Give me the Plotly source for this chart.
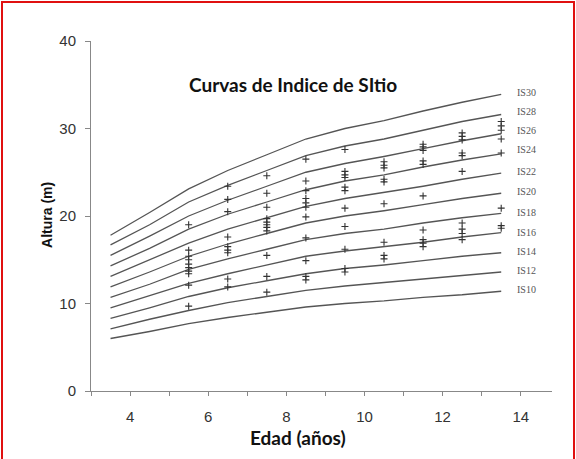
import plotly.graph_objects as go

# ---- Data ----
edad_curvas = [3.5, 4.5, 5.5, 6.5, 7.5, 8.5, 9.5, 10.5, 11.5, 12.5, 13.5]

is10 = [6.0, 6.8, 7.7, 8.4, 9.0, 9.6, 10.0, 10.3, 10.7, 11.0, 11.4]
is12 = [7.1, 8.2, 9.2, 10.1, 10.8, 11.5, 12.0, 12.4, 12.8, 13.2, 13.6]
is14 = [8.3, 9.5, 10.8, 11.8, 12.6, 13.4, 14.0, 14.4, 14.9, 15.4, 15.8]
is16 = [9.5, 10.9, 12.3, 13.4, 14.4, 15.4, 16.0, 16.5, 17.0, 17.6, 18.1]
is18 = [10.7, 12.2, 13.9, 15.1, 16.2, 17.3, 18.0, 18.5, 19.2, 19.8, 20.3]
is20 = [11.9, 13.6, 15.4, 16.8, 18.0, 19.2, 20.0, 20.6, 21.3, 22.0, 22.6]
is22 = [13.1, 15.0, 16.9, 18.5, 19.8, 21.1, 22.0, 22.7, 23.4, 24.2, 24.9]
is24 = [14.3, 16.3, 18.5, 20.2, 21.6, 23.0, 24.0, 24.7, 25.6, 26.4, 27.1]
is26 = [15.5, 17.7, 20.0, 21.8, 23.4, 25.0, 26.0, 26.8, 27.7, 28.6, 29.4]
is28 = [16.7, 19.0, 21.6, 23.5, 25.2, 26.9, 28.0, 28.8, 29.8, 30.8, 31.6]
is30 = [17.8, 20.4, 23.1, 25.2, 27.0, 28.8, 30.0, 30.9, 32.0, 33.0, 33.9]

curvas = [("IS10", is10), ("IS12", is12), ("IS14", is14), ("IS16", is16),
          ("IS18", is18), ("IS20", is20), ("IS22", is22), ("IS24", is24),
          ("IS26", is26), ("IS28", is28), ("IS30", is30)]

etiqueta_y = [11.6, 13.8, 16.0, 18.1, 20.4, 22.8, 25.1, 27.6, 29.8, 32.0, 34.1]

obs_5_5 = [19.0, 16.1, 15.4, 15.0, 14.5, 14.1, 13.7, 13.4, 12.1, 9.7]
obs_6_5 = [23.4, 21.9, 20.5, 17.6, 16.5, 16.1, 15.8, 12.8, 11.9]
obs_7_5 = [24.6, 22.6, 21.0, 19.7, 19.3, 19.0, 18.7, 18.3, 15.5, 13.1, 11.3]
obs_8_5 = [26.5, 24.0, 22.9, 22.0, 21.5, 21.0, 19.9, 17.5, 14.9, 13.1, 12.7]
obs_9_5 = [27.6, 25.1, 24.7, 24.4, 23.3, 22.9, 20.9, 18.8, 16.2, 14.0, 13.6]
obs_10_5 = [26.2, 25.8, 25.5, 24.2, 23.9, 21.4, 17.0, 15.5, 15.1]
obs_11_5 = [28.2, 27.9, 27.5, 26.3, 25.9, 22.3, 18.4, 17.3, 16.9, 16.5]
obs_12_5 = [29.5, 29.1, 28.7, 27.2, 26.9, 25.1, 19.2, 18.5, 18.0, 17.3]
obs_13_5 = [30.8, 30.3, 29.8, 28.8, 27.2, 20.9, 18.9, 18.6]

observaciones = [(5.5, obs_5_5), (6.5, obs_6_5), (7.5, obs_7_5), (8.5, obs_8_5),
                 (9.5, obs_9_5), (10.5, obs_10_5), (11.5, obs_11_5),
                 (12.5, obs_12_5), (13.5, obs_13_5)]

x_ticks = [3, 4, 5, 6, 7, 8, 9, 10, 11, 12, 13, 14]
x_ticktext = ["", "4", "", "6", "", "8", "", "10", "", "12", "", "14"]
y_ticks = [0, 10, 20, 30, 40]

titulo = "Curvas de Indice de SItio"

# ---- Figure ----
fig = go.Figure()

for nombre, valores in curvas:
    fig.add_trace(go.Scatter(
        x=edad_curvas, y=valores, mode="lines", name=nombre,
        line=dict(color="#555555", width=1.3), hoverinfo="skip",
        showlegend=False))

obs_x = []
obs_y = []
for edad, alturas in observaciones:
    obs_x += [edad] * len(alturas)
    obs_y += alturas

fig.add_trace(go.Scatter(
    x=obs_x, y=obs_y, mode="markers", showlegend=False,
    marker=dict(symbol="cross-thin", size=5,
                line=dict(width=1.1, color="#333333"))))

annotations = []
for (nombre, valores), ly in zip(curvas, etiqueta_y):
    annotations.append(dict(
        x=13.85, y=ly, xref="x", yref="y", text=nombre, showarrow=False,
        xanchor="left", yanchor="middle",
        font=dict(family="Liberation Serif", size=10, color="#555555")))

annotations.append(dict(
    x=8.18, y=35.0, xref="x", yref="y", text="<b>" + titulo + "</b>",
    showarrow=False, xanchor="center", yanchor="middle",
    font=dict(family="Lato", size=19, color="#111111")))

annotations.append(dict(
    x=(47 - 91) / 461, y=0.503, xref="paper", yref="paper",
    text="<b>Altura (m)</b>", showarrow=False, textangle=-90,
    xanchor="center", yanchor="middle",
    font=dict(family="Arial, Liberation Sans", size=14, color="#111111")))

annotations.append(dict(
    x=(298 - 91) / 461, y=(391 - 437) / 350, xref="paper", yref="paper",
    text="<b>Edad (años)</b>", showarrow=False,
    xanchor="center", yanchor="middle",
    font=dict(family="Lato", size=19, color="#111111")))

fig.update_layout(
    width=576, height=459,
    margin=dict(l=91, r=24, t=41, b=68),
    paper_bgcolor="white", plot_bgcolor="white",
    annotations=annotations,
    shapes=[dict(type="rect", xref="paper", yref="paper",
                 x0=(2 - 91) / 461, x1=(574 - 91) / 461,
                 y0=(391 - 470) / 350, y1=(391 - 2) / 350,
                 line=dict(color="#e01010", width=2), layer="above")],
    xaxis=dict(range=[3, 14.8], tickvals=x_ticks, ticktext=x_ticktext,
               showline=True, linecolor="#888888", linewidth=1,
               ticks="outside", ticklen=4, tickcolor="#888888",
               showgrid=False, zeroline=False, ticklabelstandoff=8,
               tickfont=dict(family="Arial, Liberation Sans", size=15,
                             color="#333333")),
    yaxis=dict(range=[0, 40], tickvals=y_ticks,
               showline=True, linecolor="#888888", linewidth=1,
               ticks="outside", ticklen=5, tickcolor="#888888",
               showgrid=False, zeroline=False, ticklabelstandoff=6,
               tickfont=dict(family="Arial, Liberation Sans", size=15,
                             color="#333333")),
)

fig.write_html("out.html", config={"displayModeBar": False},
               post_script="document.body.style.margin='0';")
